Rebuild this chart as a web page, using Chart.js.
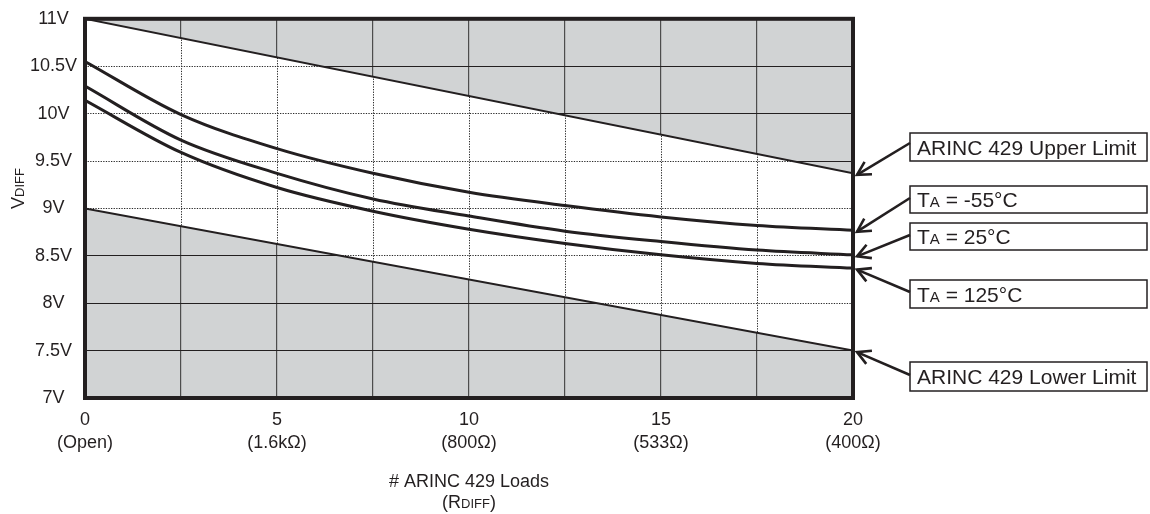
<!DOCTYPE html>
<html>
<head>
<meta charset="utf-8">
<title>ARINC 429 VDIFF vs Loads</title>
<script src="https://cdn.jsdelivr.net/npm/chart.js@4"></script>
<style>
  html, body { margin: 0; padding: 0; background: #fff; }
  #wrap { width: 1150px; height: 514px; }
</style>
</head>
<body>
<div id="wrap"><canvas id="vdiffChart" width="1150" height="514"></canvas></div>
<script>
// Values
const loads = [0, 2.5, 5, 7.5, 10, 12.5, 15, 17.5, 20];
const vdiffMinus55 = [10.55, 9.99, 9.63, 9.37, 9.17, 9.03, 8.91, 8.82, 8.77];
const vdiff25 = [10.29, 9.72, 9.37, 9.10, 8.92, 8.76, 8.65, 8.56, 8.51];
const vdiff125 = [10.14, 9.59, 9.22, 8.97, 8.78, 8.63, 8.51, 8.42, 8.37];

// ARINC 429 limit lines (straight)
const limitLoads = [0, 20];
const upperLimit = [11, 9.37];
const lowerLimit = [9, 7.5];

// second line of the x tick labels, one every 5 loads
const loadLabels = ['(Open)', '(1.6kΩ)', '(800Ω)', '(533Ω)', '(400Ω)'];

const INK = '#231f20';
const SHADE = '#d1d3d4';
const FONT = '"Liberation Sans", Arial, sans-serif';

function toPoints(xs, ys) {
    return xs.map((x, i) => ({ x: x, y: ys[i] }));
}

// draw text made of pieces with different sizes on one baseline
function drawParts(ctx, parts, x, y, align) {
    let total = 0;
    parts.forEach(p => {
        ctx.font = p[1] + 'px ' + FONT;
        total += ctx.measureText(p[0]).width;
    });
    let cx = align === 'center' ? x - total / 2 : x;
    ctx.textAlign = 'left';
    ctx.textBaseline = 'alphabetic';
    parts.forEach(p => {
        ctx.font = p[1] + 'px ' + FONT;
        ctx.fillText(p[0], cx, y);
        cx += ctx.measureText(p[0]).width;
    });
}

function alignPx(v) {
    return Math.round(v - 0.5) + 0.5;
}

// callout boxes on the right, each pointing at the end of a dataset
const callouts = [
    { parts: [['ARINC 429 Upper Limit', 21]], top: 133, h: 28, fromY: 143, ds: 0 },
    { parts: [['T', 21], ['A', 15], [' = -55°C', 21]], top: 186, h: 27, fromY: 198, ds: 2 },
    { parts: [['T', 21], ['A', 15], [' = 25°C', 21]], top: 223, h: 27, fromY: 235, ds: 3 },
    { parts: [['T', 21], ['A', 15], [' = 125°C', 21]], top: 280, h: 28, fromY: 292, ds: 4 },
    { parts: [['ARINC 429 Lower Limit', 21]], top: 362, h: 29, fromY: 375, ds: 1 }
];

const plotDecor = {
    id: 'plotDecor',
    beforeDraw(chart) {
        const { ctx, chartArea: a } = chart;
        ctx.save();
        ctx.fillStyle = SHADE;
        ctx.fillRect(a.left, a.top, a.right - a.left, a.bottom - a.top);
        ctx.restore();
    },
    beforeDatasetsDraw(chart) {
        // dotted grid only inside the white band between the limits
        const ctx = chart.ctx;
        const up = chart.getDatasetMeta(0).data;
        const lo = chart.getDatasetMeta(1).data;
        const xs = chart.scales.x, ys = chart.scales.y;
        const a = chart.chartArea;
        ctx.save();
        ctx.beginPath();
        up.forEach((p, i) => i ? ctx.lineTo(p.x, p.y) : ctx.moveTo(p.x, p.y));
        lo.slice().reverse().forEach(p => ctx.lineTo(p.x, p.y));
        ctx.closePath();
        ctx.clip();
        ctx.strokeStyle = '#2a2a2a';
        ctx.lineWidth = 1;
        ctx.setLineDash([1.3, 1.3]);
        xs.ticks.forEach(t => {
            const px = alignPx(xs.getPixelForValue(t.value));
            ctx.beginPath();
            ctx.moveTo(px, a.top);
            ctx.lineTo(px, a.bottom);
            ctx.stroke();
        });
        ys.ticks.forEach(t => {
            const py = alignPx(ys.getPixelForValue(t.value));
            ctx.beginPath();
            ctx.moveTo(a.left, py);
            ctx.lineTo(a.right, py);
            ctx.stroke();
        });
        ctx.restore();
    },
    afterDatasetsDraw(chart) {
        const { ctx, chartArea: a } = chart;
        ctx.save();
        ctx.strokeStyle = INK;
        ctx.lineWidth = 4;
        ctx.strokeRect(a.left, a.top, a.right - a.left, a.bottom - a.top);
        ctx.restore();
    },
    afterDraw(chart) {
        const { ctx, chartArea: a } = chart;
        ctx.save();
        ctx.fillStyle = INK;

        // y axis title, rotated
        ctx.save();
        ctx.translate(24, 209);
        ctx.rotate(-Math.PI / 2);
        drawParts(ctx, [['V', 18], ['DIFF', 13]], 0, 0, 'left');
        ctx.restore();

        // x axis title
        const cx = (a.left + a.right) / 2;
        drawParts(ctx, [['# ARINC 429 Loads', 18]], cx, 487, 'center');
        drawParts(ctx, [['(R', 18], ['DIFF', 13], [')', 18]], cx, 508, 'center');

        // callouts with arrows
        const boxX = 910, boxW = 237;
        callouts.forEach(c => {
            ctx.lineWidth = 1.5;
            ctx.strokeStyle = INK;
            ctx.fillStyle = '#fff';
            ctx.fillRect(boxX, c.top, boxW, c.h);
            ctx.strokeRect(boxX, c.top, boxW, c.h);
            ctx.fillStyle = INK;
            drawParts(ctx, c.parts, boxX + 7, c.top + c.h / 2 + 7.5, 'left');

            const pts = chart.getDatasetMeta(c.ds).data;
            const end = pts[pts.length - 1];
            const tx = a.right + 4, ty = end.y + 1.5;
            const ang = Math.atan2(ty - c.fromY, tx - boxX);
            ctx.lineWidth = 2.6;
            ctx.beginPath();
            ctx.moveTo(boxX, c.fromY);
            ctx.lineTo(tx, ty);
            ctx.stroke();
            const len = 15, spread = 0.5;
            ctx.beginPath();
            ctx.moveTo(tx - len * Math.cos(ang - spread), ty - len * Math.sin(ang - spread));
            ctx.lineTo(tx, ty);
            ctx.lineTo(tx - len * Math.cos(ang + spread), ty - len * Math.sin(ang + spread));
            ctx.stroke();
        });
        ctx.restore();
    }
};

function curve(values) {
    return {
        data: toPoints(loads, values),
        borderColor: INK,
        borderWidth: 3,
        pointRadius: 0,
        fill: false,
        cubicInterpolationMode: 'monotone'
    };
}

new Chart(document.getElementById('vdiffChart'), {
    type: 'line',
    data: {
        datasets: [
            { data: toPoints(limitLoads, upperLimit), borderColor: INK, borderWidth: 2,
              pointRadius: 0, fill: '+1', backgroundColor: '#ffffff' },
            { data: toPoints(limitLoads, lowerLimit), borderColor: INK, borderWidth: 2,
              pointRadius: 0, fill: false },
            curve(vdiffMinus55),
            curve(vdiff25),
            curve(vdiff125)
        ]
    },
    options: {
        responsive: false,
        animation: false,
        layout: { padding: { top: 14, right: 297, left: 0, bottom: 0 } },
        plugins: {
            legend: { display: false },
            tooltip: { enabled: false },
            filler: { drawTime: 'beforeDatasetsDraw' }
        },
        scales: {
            x: {
                type: 'linear',
                min: 0,
                max: 20,
                afterFit: s => { s.height = 116; },
                grid: { color: '#4d4d4d', lineWidth: 1.2, drawTicks: false },
                border: { display: false },
                ticks: {
                    stepSize: 2.5,
                    autoSkip: false,
                    maxRotation: 0,
                    padding: 11,
                    color: INK,
                    font: { family: FONT, size: 18, lineHeight: 1.25 },
                    callback: v => (v % 5 === 0 ? [String(v), loadLabels[v / 5]] : '')
                }
            },
            y: {
                type: 'linear',
                min: 7,
                max: 11,
                afterFit: s => { s.width = 85; },
                grid: { color: INK, lineWidth: 1, drawTicks: false },
                border: { display: false },
                ticks: {
                    stepSize: 0.5,
                    padding: 8,
                    crossAlign: 'center',
                    color: INK,
                    font: { family: FONT, size: 18 },
                    callback: v => v + 'V'
                }
            }
        }
    },
    plugins: [plotDecor]
});
</script>
</body>
</html>
